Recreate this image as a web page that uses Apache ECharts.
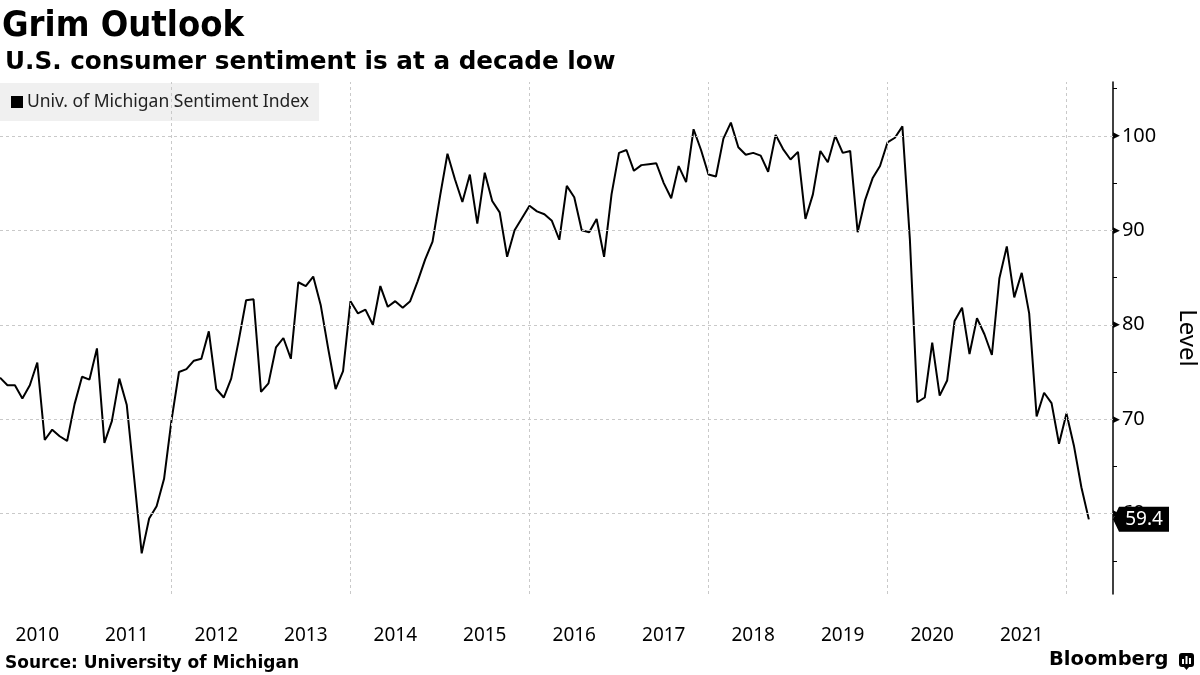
<!DOCTYPE html>
<html>
<head>
<meta charset="utf-8">
<script src="https://cdn.jsdelivr.net/npm/echarts@6/dist/echarts.min.js"></script>
<style>
html,body{margin:0;padding:0;background:#fff;}
#chart{width:1200px;height:675px;}
</style>
</head>
<body>
<div id="chart"></div>
<script>
// ---- Data: Univ. of Michigan Sentiment Index, monthly Jan 2010 – Mar 2022 ----
const firstYear = 2010;
const firstMonth = 1;
const sentiment = [
  // 2010
  74.4, 73.6, 73.6, 72.2, 73.6, 76.0, 67.8, 68.9, 68.2, 67.7, 71.6, 74.5,
  // 2011
  74.2, 77.5, 67.5, 69.8, 74.3, 71.5, 63.7, 55.8, 59.5, 60.8, 63.7, 69.9,
  // 2012
  75.0, 75.3, 76.2, 76.4, 79.3, 73.2, 72.3, 74.3, 78.3, 82.6, 82.7, 72.9,
  // 2013
  73.8, 77.6, 78.6, 76.4, 84.5, 84.1, 85.1, 82.1, 77.5, 73.2, 75.1, 82.5,
  // 2014
  81.2, 81.6, 80.0, 84.1, 81.9, 82.5, 81.8, 82.5, 84.6, 86.9, 88.8, 93.6,
  // 2015
  98.1, 95.4, 93.0, 95.9, 90.7, 96.1, 93.1, 91.9, 87.2, 90.0, 91.3, 92.6,
  // 2016
  92.0, 91.7, 91.0, 89.0, 94.7, 93.5, 90.0, 89.8, 91.2, 87.2, 93.8, 98.2,
  // 2017
  98.5, 96.3, 96.9, 97.0, 97.1, 95.0, 93.4, 96.8, 95.1, 100.7, 98.5, 95.9,
  // 2018
  95.7, 99.7, 101.4, 98.8, 98.0, 98.2, 97.9, 96.2, 100.1, 98.6, 97.5, 98.3,
  // 2019
  91.2, 93.8, 98.4, 97.2, 100.0, 98.2, 98.4, 89.8, 93.2, 95.5, 96.8, 99.3,
  // 2020
  99.8, 101.0, 89.1, 71.8, 72.3, 78.1, 72.5, 74.1, 80.4, 81.8, 76.9, 80.7,
  // 2021
  79.0, 76.8, 84.9, 88.3, 82.9, 85.5, 81.2, 70.3, 72.8, 71.7, 67.4, 70.6,
  // 2022
  67.2, 62.8, 59.4
];
const yearLabels = [2010, 2011, 2012, 2013, 2014, 2015, 2016, 2017, 2018, 2019, 2020, 2021];
const gridYears = [2012, 2014, 2016, 2018, 2020, 2022];
const yLabelValues = [60, 70, 80, 90, 100];
const yMinorTicks = [55, 60, 65, 70, 75, 80, 85, 90, 95, 100, 105];
const seriesName = 'Univ. of Michigan Sentiment Index';

// Each monthly reading is placed at the end of its month (decimal years)
const points = sentiment.map((v, i) => {
  const m = firstMonth + i;
  return [firstYear + m / 12, v];
});
const lastPoint = points[points.length - 1];
const xMin = points[0][0];
const xMax = 2022.52;
const yMin = 51.5;
const yMax = 105.7;

const gridStyle = { color: '#c9c9c9', width: 1, type: [3, 3] };
const FONT = 'Noto Sans';

const chart = echarts.init(document.getElementById('chart'), null, { renderer: 'canvas' });
chart.setOption({
  animation: false,
  backgroundColor: '#ffffff',
  title: [
    { text: 'U.S. consumer sentiment is at a decade low', left: 0, top: 45,
      textStyle: { fontFamily: 'DejaVu Sans', fontWeight: 'bold', fontSize: 24.7, color: '#000' } },
    { text: 'Source: University of Michigan', left: 0, top: 650,
      textStyle: { fontFamily: 'DejaVu Sans', fontWeight: 'bold', fontSize: 17, color: '#000' } }
  ],
  legend: {
    left: 0, top: 83, z: 1,
    padding: [10, 10, 10, 11],
    backgroundColor: '#f0f0f0',
    icon: 'rect', itemWidth: 12, itemHeight: 12, itemGap: 6,
    textStyle: { fontFamily: FONT, fontSize: 17.5, color: '#222', padding: [0, 0, 0, -1] },
    data: [seriesName]
  },
  grid: { left: 0, right: 87, top: 82, bottom: 81, containLabel: false, outerBoundsMode: 'none' },
  xAxis: {
    type: 'value', min: xMin, max: xMax,
    axisLine: { show: false }, axisTick: { show: false }, splitLine: { show: false },
    axisLabel: {
      customValues: yearLabels.map(y => y + 0.5),
      formatter: v => String(Math.floor(v)),
      fontFamily: FONT, fontSize: 19, color: '#000', margin: 32
    }
  },
  yAxis: {
    type: 'value', position: 'right', min: yMin, max: yMax,
    name: 'Level', nameLocation: 'middle', nameRotate: -90, nameGap: 62,
    nameTextStyle: { fontFamily: FONT, fontSize: 24, color: '#000' },
    axisLine: { show: true, lineStyle: { color: '#000', width: 1.5 } },
    axisTick: { show: true, customValues: yMinorTicks, length: 4, inside: false,
      lineStyle: { color: '#000', width: 1 } },
    splitLine: { show: false },
    axisLabel: {
      customValues: yLabelValues, margin: 0,
      formatter: v => '{t|▶}{v|' + v + '}',
      rich: {
        t: { fontSize: 9, color: '#000', fontFamily: 'DejaVu Sans' },
        v: { fontSize: 20, color: '#000', fontFamily: FONT, padding: [0, 0, 0, 2] }
      }
    }
  },
  series: [{
    name: seriesName, type: 'line', data: points,
    showSymbol: false, symbol: 'none',
    lineStyle: { color: '#000', width: 2 },
    itemStyle: { color: '#000' },
    z: 3,
    markLine: {
      silent: true, symbol: 'none', animation: false,
      label: { show: false },
      lineStyle: gridStyle,
      emphasis: { disabled: true },
      data: yLabelValues.map(v => ({ yAxis: v })).concat(gridYears.map(y => ({ xAxis: y })))
    },
    markPoint: {
      silent: true, animation: false,
      symbol: 'path://M0,12.5 L6,0 L56,0 L56,25 L6,25 Z',
      symbolSize: [56, 25], symbolOffset: [28, 0],
      itemStyle: { color: '#000' },
      label: { show: true, position: 'inside', offset: [3, 0], color: '#fff',
        fontFamily: FONT, fontSize: 19, formatter: p => p.value.toFixed(1) },
      data: [{ coord: [xMax, lastPoint[1]], value: lastPoint[1] }]
    }
  }],
  graphic: [
    { type: 'text', x: 2, y: 9, scaleX: 0.9,
      style: { text: 'Grim Outlook', fontFamily: 'DejaVu Sans', fontWeight: 'bold', fontSize: 36, fill: '#000' } },
    { type: 'text', x: 1049, y: 650,
      style: { text: 'Bloomberg', fontFamily: 'DejaVu Sans', fontWeight: 'bold', fontSize: 19.5, fill: '#000' } },
    { type: 'group', x: 1179, y: 653, children: [
      { type: 'rect', shape: { x: 0, y: 0, width: 15, height: 14, r: 3 }, style: { fill: '#000' } },
      { type: 'polygon', shape: { points: [[5, 14], [10, 14], [7.5, 17]] }, style: { fill: '#000' } },
      { type: 'rect', shape: { x: 3, y: 6, width: 2, height: 5 }, style: { fill: '#fff' } },
      { type: 'rect', shape: { x: 6.5, y: 3, width: 2, height: 8 }, style: { fill: '#fff' } },
      { type: 'rect', shape: { x: 10, y: 5, width: 2, height: 6 }, style: { fill: '#fff' } }
    ] }
  ]
});
</script>
</body>
</html>
